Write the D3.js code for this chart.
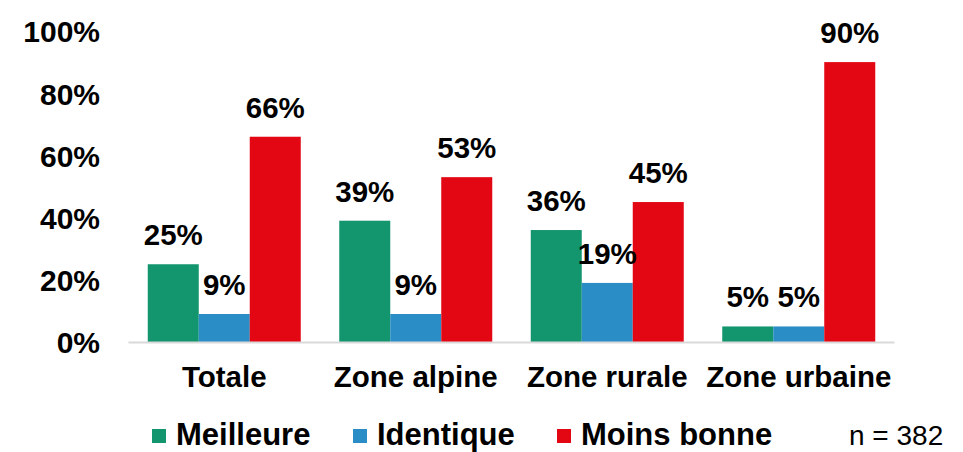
<!DOCTYPE html>
<html>
<head>
<meta charset="utf-8">
<script src="https://cdn.jsdelivr.net/npm/d3@7"></script>
<style>
  body { margin: 0; background: #fff; }
  text { font-family: "Liberation Sans", Arial, sans-serif; fill: #000; }
</style>
</head>
<body>
<svg id="chart" width="963" height="452"></svg>
<script>
// data
const categories = ['Totale', 'Zone alpine', 'Zone rurale', 'Zone urbaine']
const seriesNames = ['Meilleure', 'Identique', 'Moins bonne']
const meilleure = [25, 39, 36, 5]
const identique = [9, 9, 19, 5]
const moinsBonne = [66, 53, 45, 90]
const yTicks = [0, 20, 40, 60, 80, 100]
const colors = ['#13956d', '#2a8dc5', '#e30613']

const values = [meilleure, identique, moinsBonne]
const rows = categories.map((c, i) => ({
  cat: c,
  vals: seriesNames.map((s, j) => ({ key: s, value: values[j][i], color: colors[j] }))
}))

const svg = d3.select('#chart')

const x0 = d3.scaleBand().domain(categories).range([128.5, 894.5])
const pad = 19.25
const x1 = d3.scaleBand().domain(seriesNames).range([pad, x0.bandwidth() - pad])
const y = d3.scaleLinear().domain([0, 100]).range([342, 31])

// y axis
const yAxis = svg.append('g')
  .attr('transform', 'translate(128,0)')
  .call(d3.axisLeft(y).tickValues(yTicks).tickSize(0).tickPadding(28).tickFormat(d => d + '%'))
yAxis.select('.domain').remove()
yAxis.selectAll('text')
  .style('font-family', '"Liberation Sans", Arial, sans-serif')
  .style('font-size', '30px')
  .style('font-weight', 'bold')
  .attr('fill', '#000')
  .attr('dy', '0.36em')

// bars
const groups = svg.append('g').selectAll('g')
  .data(rows)
  .enter()
  .append('g')
  .attr('transform', d => `translate(${x0(d.cat)},0)`)

groups.selectAll('rect')
  .data(d => d.vals)
  .enter()
  .append('rect')
  .attr('x', d => x1(d.key))
  .attr('width', x1.bandwidth())
  .attr('y', d => y(d.value))
  .attr('height', d => y(0) - y(d.value))
  .attr('fill', d => d.color)

groups.selectAll('.barLabel')
  .data(d => d.vals)
  .enter()
  .append('text')
  .attr('class', 'barLabel')
  .attr('x', d => x1(d.key) + x1.bandwidth() / 2)
  .attr('y', d => y(d.value) - 19)
  .attr('text-anchor', 'middle')
  .style('font-size', '29.5px')
  .style('font-weight', 'bold')
  .text(d => d.value + '%')

// x axis line
svg.append('line')
  .attr('x1', x0.range()[0])
  .attr('x2', x0.range()[1])
  .attr('y1', y(0) + 0.5)
  .attr('y2', y(0) + 0.5)
  .attr('stroke', '#d9d9d9')
  .attr('stroke-width', 2)

// category labels
svg.append('g').selectAll('text')
  .data(categories)
  .enter()
  .append('text')
  .attr('x', d => x0(d) + x0.bandwidth() / 2)
  .attr('y', 387)
  .attr('text-anchor', 'middle')
  .style('font-size', '29.5px')
  .style('font-weight', 'bold')
  .text(d => d)

// legend
const legendX = [152, 353, 557]
const legend = svg.append('g').selectAll('g')
  .data(seriesNames)
  .enter()
  .append('g')
  .attr('transform', (d, i) => `translate(${legendX[i]},0)`)

legend.append('rect')
  .attr('x', 0)
  .attr('y', 429)
  .attr('width', 14)
  .attr('height', 14)
  .attr('fill', (d, i) => colors[i])

legend.append('text')
  .attr('x', 24)
  .attr('y', 445)
  .style('font-size', '31px')
  .style('font-weight', 'bold')
  .text(d => d)

// sample size
svg.append('text')
  .attr('x', 849)
  .attr('y', 445)
  .style('font-size', '28px')
  .text('n = 382')
</script>
</body>
</html>
